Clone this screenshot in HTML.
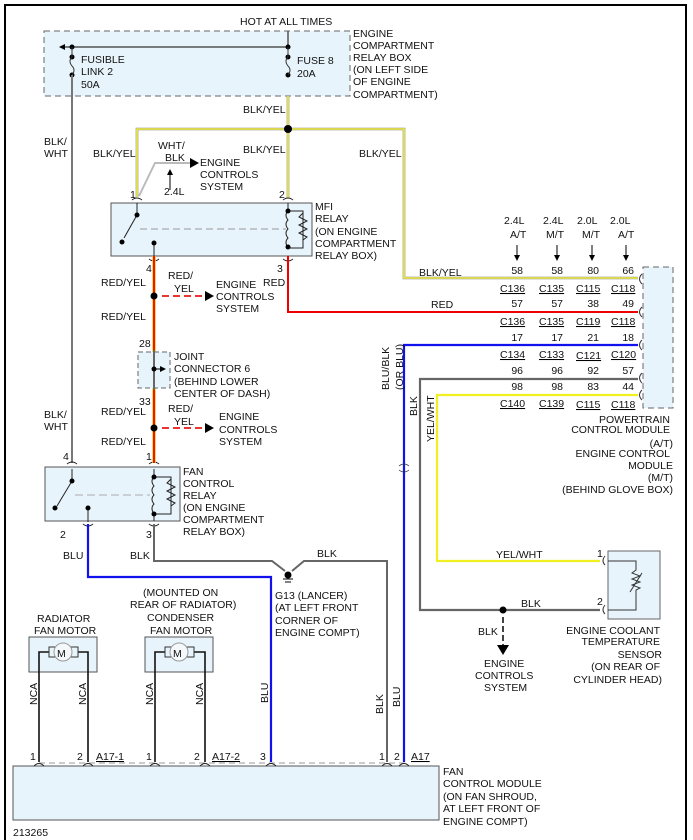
<!DOCTYPE html>
<html><head><meta charset="utf-8"><style>
html,body{margin:0;padding:0;background:#fff}
svg{display:block}
text{font-family:"Liberation Sans",sans-serif;font-size:10.5px;fill:#111}
</style></head><body>
<svg width="693" height="840" viewBox="0 0 693 840" xmlns="http://www.w3.org/2000/svg">
<defs>
<marker id="as" markerWidth="6" markerHeight="6" refX="5" refY="3" orient="auto" markerUnits="userSpaceOnUse"><path d="M0,0 L6,3 L0,6 z" fill="#000"/></marker>
</defs>
<path d="M5,840 V5 H686 V840" fill="none" stroke="#000" stroke-width="2"/>
<rect x="44" y="31" width="306" height="65" fill="#e8f4fb" stroke="#666" stroke-dasharray="6,4"/>
<text x="240" y="25">HOT AT ALL TIMES</text>
<line x1="288" y1="31" x2="288" y2="47" stroke="#555" stroke-width="1.5"/>
<line x1="288" y1="47" x2="60" y2="47" stroke="#333" stroke-width="1.2" marker-end="url(#as)"/>
<circle cx="72" cy="47" r="2.5"/><circle cx="288" cy="47" r="2.5"/>
<circle cx="72" cy="57" r="2.5"/><circle cx="72" cy="75" r="2.5"/>
<circle cx="288" cy="57" r="2.5"/><circle cx="288" cy="75" r="2.5"/>
<path d="M72,57 q-4,4 0,9 q4,4 0,9" fill="none" stroke="#333"/>
<path d="M288,57 q-4,4 0,9 q4,4 0,9" fill="none" stroke="#333"/>
<line x1="72" y1="47" x2="72" y2="57" stroke="#333"/><line x1="288" y1="47" x2="288" y2="57" stroke="#333"/>
<text x="81" y="63">FUSIBLE</text><text x="81" y="75">LINK 2</text><text x="81" y="88">50A</text>
<text x="297" y="64">FUSE 8</text><text x="297" y="77">20A</text>
<text x="353" y="37">ENGINE</text><text x="353" y="49">COMPARTMENT</text><text x="353" y="61">RELAY BOX</text><text x="353" y="73">(ON LEFT SIDE</text><text x="353" y="85">OF ENGINE</text><text x="353" y="98">COMPARTMENT)</text>
<line x1="72" y1="75" x2="72" y2="463" stroke="#777" stroke-width="2"/>
<text x="44" y="145">BLK/</text><text x="44" y="157">WHT</text>
<text x="44" y="418">BLK/</text><text x="44" y="430">WHT</text>
<g fill="none" stroke-linejoin="miter">
<path d="M288,96 V198 M137,197 V129 H404 V278 H638" stroke="#888" stroke-width="2.6"/>
<path d="M288,96 V198 M137,197 V129 H404 V278 H638" stroke="#f4f040" stroke-width="1.6"/>
</g>
<circle cx="288" cy="129" r="4"/>
<text x="243" y="113">BLK/YEL</text><text x="243" y="153">BLK/YEL</text><text x="93" y="157">BLK/YEL</text><text x="359" y="157">BLK/YEL</text>
<text x="419" y="276">BLK/YEL</text>
<path d="M139,196 L155,163 H190" fill="none" stroke="#bbb" stroke-width="2"/>
<path d="M190,158 L199,163 L190,168z" fill="#000"/>
<line x1="170" y1="190" x2="170" y2="170" stroke="#000" marker-end="url(#as)"/>
<text x="158" y="149">WHT/</text><text x="165" y="161">BLK</text>
<text x="200" y="166">ENGINE</text><text x="200" y="178">CONTROLS</text><text x="200" y="190">SYSTEM</text>
<text x="164" y="195">2.4L</text>
<rect x="111" y="203" width="201" height="53" fill="#e8f4fb" stroke="#555"/>
<text x="130" y="198" fill="#800">1</text><text x="279" y="198">2</text>
<text x="315" y="210">MFI</text><text x="315" y="222">RELAY</text><text x="315" y="235">(ON ENGINE</text><text x="315" y="247">COMPARTMENT</text><text x="315" y="259">RELAY BOX)</text>
<g stroke="#222" fill="none" stroke-width="1">
<path d="M132,200 q5,-4 10,0 M283,200 q5,-4 10,0 M149,259 q5,4 10,0 M283,259 q5,4 10,0 M131,499 q5,-4 10,0 M67,464 q5,-4 10,0 M149,464 q5,-4 10,0 M83,524 q5,4 10,0 M149,524 q5,4 10,0"/>
<path d="M137,203 V215 L124,238 M288,203 V211 H303 V248 H288 M154,243 V256 M288,211 q-4,4 0,9 q-4,4 0,9 q-4,4 0,9 q-4,4 0,10"/>
<path d="M303,213 l-4,4 l8,4 l-8,4 l8,4 l-8,4 l8,4 l-4,3"/>
</g>
<line x1="140" y1="229" x2="286" y2="229" stroke="#999" stroke-dasharray="7,4"/>
<circle cx="137" cy="215" r="2.5"/><circle cx="122" cy="242" r="2.5"/><circle cx="154" cy="243" r="2.5"/><circle cx="288" cy="211" r="2.5"/><circle cx="288" cy="247" r="2.5"/>
<path d="M154,256 V463" stroke="#f0d020" stroke-width="3.5"/>
<path d="M154,256 V463" stroke="#e00" stroke-width="1.8"/>
<text x="146" y="272">4</text><text x="277" y="272">3</text>
<text x="101" y="286">RED/YEL</text><text x="101" y="320">RED/YEL</text><text x="101" y="415">RED/YEL</text><text x="101" y="445">RED/YEL</text>
<circle cx="154" cy="296" r="3.5"/><circle cx="154" cy="428" r="3.5"/>
<line x1="162" y1="296" x2="205" y2="296" stroke="#e33" stroke-width="2" stroke-dasharray="7,4"/>
<line x1="162" y1="428" x2="205" y2="428" stroke="#e33" stroke-width="2" stroke-dasharray="7,4"/>
<path d="M205,291 L214,296 L205,301z M205,423 L214,428 L205,433z"/>
<text x="168" y="279">RED/</text><text x="174" y="292">YEL</text>
<text x="168" y="412">RED/</text><text x="174" y="425">YEL</text>
<text x="216" y="288">ENGINE</text><text x="216" y="300">CONTROLS</text><text x="216" y="312">SYSTEM</text>
<text x="219" y="420">ENGINE</text><text x="219" y="433">CONTROLS</text><text x="219" y="445">SYSTEM</text>
<rect x="138" y="352" width="32" height="36" fill="#e8f4fb" stroke="#666" stroke-dasharray="5,3"/>
<line x1="154" y1="350" x2="154" y2="390" stroke="#666" stroke-width="2"/>
<circle cx="154" cy="369" r="2.5"/><line x1="154" y1="369" x2="165" y2="369" stroke="#000" marker-end="url(#as)"/>
<text x="139" y="347">28</text><text x="139" y="405">33</text>
<text x="174" y="360">JOINT</text><text x="174" y="372">CONNECTOR 6</text><text x="174" y="385">(BEHIND LOWER</text><text x="174" y="397">CENTER OF DASH)</text>
<path d="M288,256 V312 H638" fill="none" stroke="#e00" stroke-width="2"/>
<text x="263" y="286">RED</text><text x="431" y="308">RED</text>
<rect x="643" y="267" width="30" height="141" fill="#e8f4fb" stroke="#666" stroke-dasharray="6,4"/>
<g stroke="#333" fill="none"><path d="M642,274 q-5,5 0,10 M642,307 q-5,5 0,10 M642,340 q-5,5 0,10 M642,373 q-5,5 0,10 M642,390 q-5,5 0,10"/></g>
<g font-size="10">
<text x="504" y="224">2.4L</text><text x="543" y="224">2.4L</text><text x="577" y="224">2.0L</text><text x="610" y="224">2.0L</text>
<text x="510" y="238">A/T</text><text x="546" y="238">M/T</text><text x="582" y="238">M/T</text><text x="618" y="238">A/T</text>
</g>
<g stroke="#000"><line x1="517" y1="245" x2="517" y2="260" marker-end="url(#as)"/><line x1="557" y1="245" x2="557" y2="260" marker-end="url(#as)"/><line x1="592" y1="245" x2="592" y2="260" marker-end="url(#as)"/><line x1="626" y1="245" x2="626" y2="260" marker-end="url(#as)"/></g>
<g text-anchor="end">
<text x="523" y="274">58</text><text x="563" y="274">58</text><text x="599" y="274">80</text><text x="634" y="274">66</text>
<text x="523" y="307">57</text><text x="563" y="307">57</text><text x="599" y="307">38</text><text x="634" y="307">49</text>
<text x="523" y="341">17</text><text x="563" y="341">17</text><text x="599" y="341">21</text><text x="634" y="341">18</text>
<text x="523" y="374">96</text><text x="563" y="374">96</text><text x="599" y="374">92</text><text x="634" y="374">57</text>
<text x="523" y="390">98</text><text x="563" y="390">98</text><text x="599" y="390">83</text><text x="634" y="390">44</text>
</g>
<g text-decoration="underline">
<text x="500" y="292">C136</text><text x="539" y="292">C135</text><text x="576" y="292">C115</text><text x="611" y="292">C118</text>
<text x="500" y="325">C136</text><text x="539" y="325">C135</text><text x="576" y="325">C119</text><text x="611" y="325">C118</text>
<text x="500" y="358">C134</text><text x="539" y="358">C133</text><text x="576" y="359">C121</text><text x="611" y="358">C120</text>
<text x="500" y="407">C140</text><text x="539" y="407">C139</text><text x="576" y="408">C115</text><text x="611" y="408">C118</text>
</g>
<g text-anchor="end">
<text x="670" y="423">POWERTRAIN</text><text x="670" y="433">CONTROL MODULE</text><text x="673" y="447">(A/T)</text>
<text x="670" y="457">ENGINE CONTROL</text><text x="673" y="469">MODULE</text><text x="673" y="481">(M/T)</text><text x="673" y="493">(BEHIND GLOVE BOX)</text>
</g>
<path d="M638,345 H404 V762" fill="none" stroke="#11e" stroke-width="2.2"/>
<path d="M399,466 q5,-4 10,0 M399,470 q5,4 10,0" fill="none" stroke="#333" stroke-width="0.8"/>
<path d="M638,379 H420 V610 H600" fill="none" stroke="#666" stroke-width="2.2"/>
<path d="M638,395 H437 V561 H600" fill="none" stroke="#f0f020" stroke-width="2.2"/>
<text transform="translate(389,390) rotate(-90)">BLU/BLK</text><text transform="translate(403,390) rotate(-90)">(OR BLU)</text>
<text transform="translate(417,416) rotate(-90)">BLK</text><text transform="translate(434,442) rotate(-90)">YEL/WHT</text>
<text x="496" y="558">YEL/WHT</text><text x="521" y="607">BLK</text>
<circle cx="503" cy="610" r="3.5"/>
<line x1="503" y1="617" x2="503" y2="645" stroke="#444" stroke-width="2" stroke-dasharray="6,3"/>
<path d="M497,645 L509,645 L503,655z"/>
<text x="478" y="635">BLK</text>
<text x="484" y="667">ENGINE</text><text x="475" y="679">CONTROLS</text><text x="484" y="691">SYSTEM</text>
<rect x="608" y="551" width="52" height="68" fill="#e8f4fb" stroke="#666"/>
<path d="M605,556 q-4,5 0,9 M605,605 q-4,5 0,9" fill="none" stroke="#333"/>
<path d="M608,561 H636 V570 l-4,3 l8,3 l-8,3 l8,3 l-8,3 l8,3 l-4,2 V610 H608" fill="none" stroke="#333"/>
<line x1="630" y1="592" x2="642" y2="573" stroke="#333"/>
<text x="597" y="557">1</text><text x="597" y="605">2</text>
<g text-anchor="end"><text x="660" y="634">ENGINE COOLANT</text><text x="660" y="645">TEMPERATURE</text><text x="662" y="658">SENSOR</text><text x="660" y="670">(ON REAR OF</text><text x="662" y="683">CYLINDER HEAD)</text></g>
<rect x="45" y="467" width="135" height="54" fill="#e8f4fb" stroke="#555"/>
<text x="63" y="460">4</text><text x="146" y="460">1</text>
<text x="60" y="538">2</text><text x="146" y="538">3</text>
<g stroke="#222" fill="none">
<path d="M72,469 V481 L57,506 M154,469 V477 H171 V514 H154 M88,509 V522 M154,477 q-4,4 0,9 q-4,4 0,9 q-4,4 0,9 q-4,4 0,10 V521"/>
<path d="M171,479 l-4,4 l8,4 l-4,2 l-4,2 l8,4 l-8,4 l8,4 l-4,3"/>
</g>
<line x1="75" y1="495" x2="150" y2="495" stroke="#aaa" stroke-dasharray="8,4"/>
<circle cx="72" cy="481" r="2.5"/><circle cx="55" cy="508" r="2.5"/><circle cx="88" cy="508" r="2.5"/><circle cx="154" cy="477" r="2.5"/><circle cx="154" cy="514" r="2.5"/>
<text x="183" y="475">FAN</text><text x="183" y="487">CONTROL</text><text x="183" y="499">RELAY</text><text x="183" y="511">(ON ENGINE</text><text x="183" y="523">COMPARTMENT</text><text x="183" y="535">RELAY BOX)</text>
<path d="M88,524 V577 H271 V762" fill="none" stroke="#11e" stroke-width="2.2"/>
<path d="M154,524 V561 H272 L285,571 M292,571 L304,561 H387 V762" fill="none" stroke="#666" stroke-width="2"/>
<circle cx="288" cy="575" r="3.5"/>
<path d="M283,579 H293 M285,582 H291" stroke="#000"/>
<text x="63" y="559">BLU</text><text x="130" y="559">BLK</text><text x="317" y="557">BLK</text>
<text x="275" y="599">G13  (LANCER)</text><text x="275" y="611">(AT LEFT FRONT</text><text x="275" y="624">CORNER OF</text><text x="275" y="636">ENGINE COMPT)</text>
<text x="37" y="622">RADIATOR</text><text x="34" y="634">FAN MOTOR</text>
<text x="143" y="596">(MOUNTED ON</text><text x="130" y="608">REAR OF RADIATOR)</text><text x="147" y="621">CONDENSER</text><text x="150" y="634">FAN MOTOR</text>
<g>
<rect x="29" y="637" width="68" height="35" fill="#e8f4fb" stroke="#555"/>
<rect x="145" y="637" width="68" height="35" fill="#e8f4fb" stroke="#555"/>
<path d="M39,762 V652 H49 M78,652 H88 V762 M155,762 V652 H165 M194,652 H205 V762" fill="none" stroke="#111" stroke-width="1.6"/>
<rect x="49" y="647" width="29" height="10" fill="#e8f4fb" stroke="#333"/>
<rect x="165" y="647" width="29" height="10" fill="#e8f4fb" stroke="#333"/>
<circle cx="63" cy="652" r="9" fill="#f4f8fb" stroke="#999"/><circle cx="179" cy="652" r="9" fill="#f4f8fb" stroke="#999"/>
<text x="57" y="657" font-size="14" fill="#114">M</text><text x="173" y="657" font-size="14" fill="#114">M</text>
</g>
<text transform="translate(37,705) rotate(-90)">NCA</text><text transform="translate(86,705) rotate(-90)">NCA</text>
<text transform="translate(153,705) rotate(-90)">NCA</text><text transform="translate(203,705) rotate(-90)">NCA</text>
<text transform="translate(268,703) rotate(-90)">BLU</text><text transform="translate(383,714) rotate(-90)">BLK</text><text transform="translate(400,707) rotate(-90)">BLU</text>
<line x1="39" y1="763" x2="405" y2="763" stroke="#bbb" stroke-width="1.5" stroke-dasharray="6,4"/>
<rect x="13" y="766" width="426" height="54" fill="#e8f4fb" stroke="#555"/>
<g stroke="#222" fill="none"><path d="M34,766 q5,-5 10,0 M83,766 q5,-5 10,0 M150,766 q5,-5 10,0 M200,766 q5,-5 10,0 M266,766 q5,-5 10,0 M382,766 q5,-5 10,0 M399,766 q5,-5 10,0"/></g>
<text x="30" y="760">1</text><text x="77" y="760">2</text><text x="146" y="760">1</text><text x="194" y="760">2</text><text x="260" y="760">3</text><text x="379" y="760">1</text><text x="394" y="760">2</text>
<g text-decoration="underline"><text x="96" y="760">A17-1</text><text x="212" y="760">A17-2</text><text x="411" y="760">A17</text></g>
<text x="443" y="775">FAN</text><text x="443" y="787">CONTROL MODULE</text><text x="443" y="800">(ON FAN SHROUD,</text><text x="443" y="812">AT LEFT FRONT OF</text><text x="443" y="825">ENGINE COMPT)</text>
<text x="13" y="836">213265</text>
</svg>
</body></html>
